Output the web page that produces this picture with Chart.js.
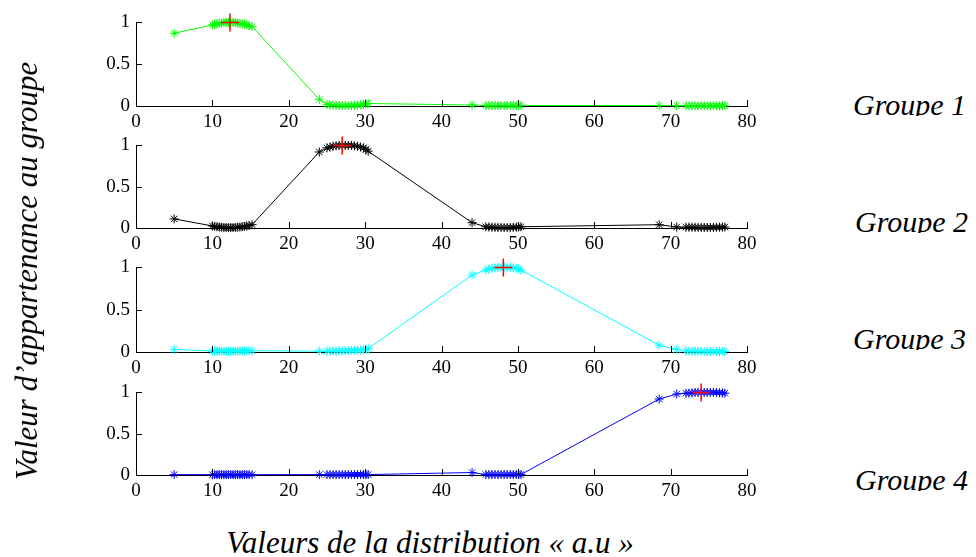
<!DOCTYPE html>
<html>
<head>
<meta charset="utf-8">
<script src="https://cdn.jsdelivr.net/npm/chart.js@4/dist/chart.umd.min.js"></script>
<style>
  html, body { margin:0; padding:0; background:#fff; }
  body { width:976px; height:557px; position:relative; overflow:hidden; font-family:"Liberation Serif", "DejaVu Serif", serif; }
  canvas { position:absolute; left:0; }
  .lbl { position:absolute; font-family:"Liberation Serif", "DejaVu Serif", serif; font-style:italic; color:#000; white-space:nowrap; }
  .grp { overflow:hidden; font-size:30px; line-height:32px; height:27px; }
</style>
</head>
<body>
<canvas id="c0" width="776" height="140"></canvas>
<canvas id="c1" width="776" height="140"></canvas>
<canvas id="c2" width="776" height="140"></canvas>
<canvas id="c3" width="776" height="140"></canvas>

<div class="lbl grp" style="left:853px; top:89px;">Groupe 1</div>
<div class="lbl grp" style="left:855px; top:206px;">Groupe 2</div>
<div class="lbl grp" style="left:853px; top:323px;">Groupe 3</div>
<div class="lbl grp" style="left:855px; top:464px;">Groupe 4</div>

<div class="lbl" style="left:27px; top:271px; font-size:31px; line-height:32px; transform:translate(-50%,-50%) rotate(-90deg);">Valeur d’appartenance au groupe</div>
<div class="lbl" style="left:430px; top:527px; font-size:31px; line-height:32px; transform:translateX(-50%);">Valeurs de la distribution « a.u »</div>

<script>
// ---------- DATA ----------
const xValues = [5,
  10.0,10.3,10.6,10.9,11.2,11.5,11.8,12.1,12.4,12.7,13.0,13.3,13.6,13.9,14.2,14.5,14.8,15.2,
  24.0,
  25.0,25.4,25.8,26.2,26.6,27.0,27.4,27.8,28.2,28.6,29.0,29.4,29.8,30.1,30.4,
  44.0,
  45.8,46.2,46.6,47.0,47.4,47.8,48.2,48.6,49.0,49.4,49.8,50.1,50.4,
  68.5,70.8,
  72.0,72.4,72.8,73.2,73.6,74.0,74.4,74.8,75.2,75.6,76.0,76.4,76.8,77.1];

const groupe1 = [0.87,
  0.97,0.98,0.98,0.99,0.99,1.0,1.0,1.0,1.0,1.0,1.0,0.99,0.99,0.98,0.98,0.97,0.96,0.95,
  0.08,
  0.02,0.015,0.01,0.01,0.006,0.005,0.005,0.005,0.006,0.01,0.01,0.015,0.02,0.025,0.03,
  0.012,
  0.006,0.006,0.006,0.006,0.006,0.006,0.006,0.006,0.006,0.006,0.006,0.006,0.006,
  0.006,0.004,
  0.003,0.003,0.003,0.003,0.003,0.003,0.003,0.003,0.003,0.003,0.003,0.003,0.003,0.003];

const groupe2 = [0.11,
  0.025,0.02,0.015,0.012,0.01,0.006,0.005,0.005,0.005,0.005,0.006,0.01,0.012,0.015,0.02,0.025,0.03,0.04,
  0.92,
  0.97,0.98,0.99,0.995,1.0,1.0,1.0,1.0,1.0,0.995,0.99,0.98,0.97,0.95,0.93,
  0.065,
  0.015,0.012,0.01,0.008,0.006,0.005,0.005,0.005,0.006,0.008,0.01,0.012,0.015,
  0.04,0.012,
  0.01,0.01,0.009,0.008,0.007,0.006,0.006,0.006,0.007,0.008,0.009,0.01,0.011,0.012];

const groupe3 = [0.03,
  0.012,0.011,0.01,0.01,0.009,0.008,0.008,0.008,0.008,0.008,0.009,0.01,0.01,0.011,0.012,0.013,0.014,0.015,
  0.01,
  0.01,0.01,0.012,0.012,0.013,0.014,0.015,0.016,0.017,0.018,0.02,0.022,0.025,0.03,0.04,
  0.91,
  0.97,0.98,0.99,0.995,1.0,1.0,1.0,1.0,1.0,0.995,0.99,0.98,0.97,
  0.08,0.03,
  0.012,0.01,0.009,0.008,0.007,0.006,0.005,0.005,0.005,0.005,0.005,0.006,0.006,0.007];

const groupe4 = [0.005,
  0.004,0.004,0.004,0.004,0.004,0.004,0.004,0.004,0.004,0.004,0.004,0.004,0.004,0.004,0.004,0.004,0.004,0.004,
  0.005,
  0.005,0.005,0.005,0.005,0.005,0.005,0.005,0.005,0.005,0.005,0.005,0.005,0.005,0.005,0.005,
  0.03,
  0.006,0.006,0.006,0.006,0.006,0.006,0.006,0.006,0.006,0.006,0.006,0.006,0.006,
  0.92,0.98,
  0.99,0.99,0.995,1.0,1.0,1.0,1.0,1.0,1.0,1.0,1.0,0.995,0.995,0.99];

const centreX = [12.3, 27.0, 48.1, 74.0];
const centreY = [1, 1, 1, 1];

const xTicks = [0,10,20,30,40,50,60,70,80];
const yTicks = [0,0.5,1];

const groupColors = ['#00ff00', '#000000', '#00ffff', '#0000ff'];
const groupSeries = [groupe1, groupe2, groupe3, groupe4];

// ---------- LAYOUT ----------
const FONT = '"Liberation Serif", "DejaVu Serif", serif';
const plotTop = [19, 142, 264, 389];
const plotBottom = [106, 228, 352, 475];
const PAD_TOP = 14;
const XAXIS_H = 40;

const inwardTicks = {
  id: 'inwardTicks',
  afterDraw(chart) {
    const ctx = chart.ctx;
    const xs = chart.scales.x, ys = chart.scales.y;
    const bottom = ys.getPixelForValue(0);
    const left = xs.getPixelForValue(0);
    ctx.save();
    ctx.strokeStyle = '#000';
    ctx.lineWidth = 1;
    ctx.beginPath();
    xTicks.forEach(v => {
      const px = Math.round(xs.getPixelForValue(v)) + 0.5;
      ctx.moveTo(px, bottom);
      ctx.lineTo(px, bottom - 6);
    });
    yTicks.forEach(v => {
      const py = Math.round(ys.getPixelForValue(v)) + 0.5;
      ctx.moveTo(left, py);
      ctx.lineTo(left + 6, py);
    });
    ctx.stroke();
    ctx.restore();
  }
};

for (let i = 0; i < 4; i++) {
  const cv = document.getElementById('c' + i);
  const h = (plotBottom[i] - plotTop[i]) + PAD_TOP + XAXIS_H;
  cv.height = h;
  cv.style.top = (plotTop[i] - PAD_TOP) + 'px';

  const pts = xValues.map((x, k) => ({x: x, y: groupSeries[i][k]}));
  const centre = [{x: centreX[i], y: centreY[i]}];

  new Chart(cv, {
    type: 'scatter',
    data: {
      datasets: [
        {
          data: centre,
          order: 0,
          clip: false,
          showLine: false,
          pointStyle: 'cross',
          pointRadius: 9,
          pointBorderWidth: 1.5,
          borderColor: '#ff0000',
          backgroundColor: '#ff0000'
        },
        {
          data: pts,
          order: 1,
          clip: false,
          showLine: true,
          borderColor: groupColors[i],
          backgroundColor: groupColors[i],
          borderWidth: 1,
          pointStyle: 'star',
          pointRadius: 4.5,
          pointBorderWidth: 1,
          pointBorderColor: groupColors[i]
        }
      ]
    },
    options: {
      responsive: false,
      animation: false,
      events: [],
      layout: { padding: { top: PAD_TOP, right: 29, left: 0, bottom: 0 } },
      plugins: { legend: { display: false }, tooltip: { enabled: false } },
      scales: {
        x: {
          type: 'linear',
          min: 0, max: 80,
          grid: { display: false, drawTicks: false },
          border: { display: true, color: '#000', width: 1 },
          afterBuildTicks: s => { s.ticks = xTicks.map(v => ({value: v})); },
          afterFit: s => { s.height = XAXIS_H; },
          ticks: { color: '#000', padding: 5, maxRotation: 0, autoSkip: false,
                   callback: v => String(v),
                   font: { family: FONT, size: 19 } }
        },
        y: {
          type: 'linear',
          min: 0, max: 1,
          grid: { display: false, drawTicks: false },
          border: { display: true, color: '#000', width: 1 },
          afterBuildTicks: s => { s.ticks = yTicks.map(v => ({value: v})); },
          afterFit: s => { s.width = 136; },
          ticks: { color: '#000', padding: 6,
                   callback: v => String(v),
                   font: { family: FONT, size: 19 } }
        }
      }
    },
    plugins: [inwardTicks]
  });
}
</script>
</body>
</html>
